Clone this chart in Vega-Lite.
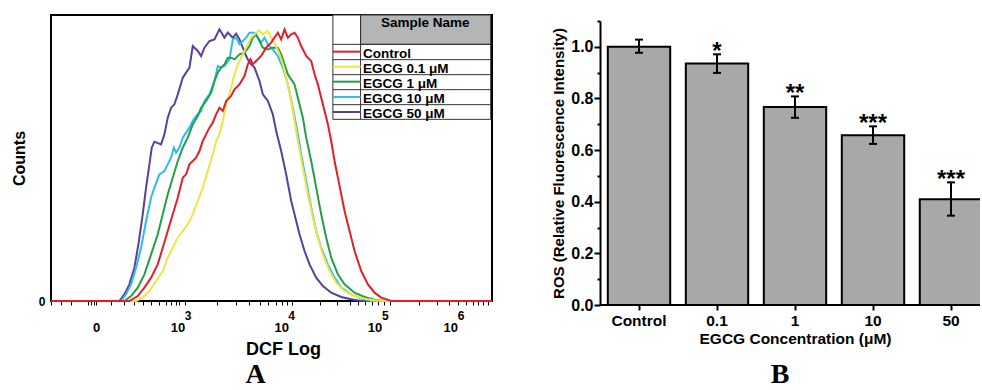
{
  "$schema": "https://vega.github.io/schema/vega-lite/v6.json",
  "usermeta": {"embedOptions": {"actions": false}},
  "padding": {"left": 10, "top": 13, "right": 0, "bottom": 0},
  "background": "white",
  "config": {
    "font": "Liberation Sans",
    "axis": {"grid": false, "labelColor": "black", "titleColor": "black", "tickColor": "black", "domainColor": "black", "labelFontWeight": "bold", "titleFontWeight": "bold"}
  },
  "spacing": 54,
  "datasets": {
    "hist": [
      {"sample": "EGCG 50 μM", "channel": 150, "count": 0},
      {"sample": "EGCG 50 μM", "channel": 355, "count": 0},
      {"sample": "EGCG 50 μM", "channel": 370, "count": 20},
      {"sample": "EGCG 50 μM", "channel": 385, "count": 50},
      {"sample": "EGCG 50 μM", "channel": 400, "count": 100},
      {"sample": "EGCG 50 μM", "channel": 412, "count": 170},
      {"sample": "EGCG 50 μM", "channel": 425, "count": 260},
      {"sample": "EGCG 50 μM", "channel": 435, "count": 340},
      {"sample": "EGCG 50 μM", "channel": 445, "count": 410},
      {"sample": "EGCG 50 μM", "channel": 452, "count": 460},
      {"sample": "EGCG 50 μM", "channel": 460, "count": 478},
      {"sample": "EGCG 50 μM", "channel": 480, "count": 470},
      {"sample": "EGCG 50 μM", "channel": 490, "count": 500},
      {"sample": "EGCG 50 μM", "channel": 500, "count": 550},
      {"sample": "EGCG 50 μM", "channel": 510, "count": 580},
      {"sample": "EGCG 50 μM", "channel": 520, "count": 590},
      {"sample": "EGCG 50 μM", "channel": 530, "count": 620},
      {"sample": "EGCG 50 μM", "channel": 545, "count": 670},
      {"sample": "EGCG 50 μM", "channel": 555, "count": 685},
      {"sample": "EGCG 50 μM", "channel": 565, "count": 700},
      {"sample": "EGCG 50 μM", "channel": 575, "count": 765},
      {"sample": "EGCG 50 μM", "channel": 590, "count": 750},
      {"sample": "EGCG 50 μM", "channel": 600, "count": 735},
      {"sample": "EGCG 50 μM", "channel": 610, "count": 760},
      {"sample": "EGCG 50 μM", "channel": 625, "count": 780},
      {"sample": "EGCG 50 μM", "channel": 640, "count": 785},
      {"sample": "EGCG 50 μM", "channel": 655, "count": 815},
      {"sample": "EGCG 50 μM", "channel": 670, "count": 790},
      {"sample": "EGCG 50 μM", "channel": 680, "count": 805},
      {"sample": "EGCG 50 μM", "channel": 695, "count": 790},
      {"sample": "EGCG 50 μM", "channel": 705, "count": 802},
      {"sample": "EGCG 50 μM", "channel": 715, "count": 785},
      {"sample": "EGCG 50 μM", "channel": 725, "count": 760},
      {"sample": "EGCG 50 μM", "channel": 735, "count": 735},
      {"sample": "EGCG 50 μM", "channel": 745, "count": 715},
      {"sample": "EGCG 50 μM", "channel": 760, "count": 700},
      {"sample": "EGCG 50 μM", "channel": 775, "count": 660},
      {"sample": "EGCG 50 μM", "channel": 785, "count": 620},
      {"sample": "EGCG 50 μM", "channel": 800, "count": 600},
      {"sample": "EGCG 50 μM", "channel": 815, "count": 560},
      {"sample": "EGCG 50 μM", "channel": 825, "count": 510},
      {"sample": "EGCG 50 μM", "channel": 840, "count": 450},
      {"sample": "EGCG 50 μM", "channel": 855, "count": 380},
      {"sample": "EGCG 50 μM", "channel": 870, "count": 300},
      {"sample": "EGCG 50 μM", "channel": 880, "count": 260},
      {"sample": "EGCG 50 μM", "channel": 895, "count": 200},
      {"sample": "EGCG 50 μM", "channel": 910, "count": 150},
      {"sample": "EGCG 50 μM", "channel": 925, "count": 110},
      {"sample": "EGCG 50 μM", "channel": 945, "count": 70},
      {"sample": "EGCG 50 μM", "channel": 965, "count": 45},
      {"sample": "EGCG 50 μM", "channel": 990, "count": 25},
      {"sample": "EGCG 50 μM", "channel": 1020, "count": 12},
      {"sample": "EGCG 50 μM", "channel": 1050, "count": 5},
      {"sample": "EGCG 50 μM", "channel": 1080, "count": 0},
      {"sample": "EGCG 50 μM", "channel": 1472, "count": 0},

      {"sample": "EGCG 10 μM", "channel": 150, "count": 0},
      {"sample": "EGCG 10 μM", "channel": 360, "count": 0},
      {"sample": "EGCG 10 μM", "channel": 375, "count": 20},
      {"sample": "EGCG 10 μM", "channel": 390, "count": 50},
      {"sample": "EGCG 10 μM", "channel": 405, "count": 100},
      {"sample": "EGCG 10 μM", "channel": 420, "count": 160},
      {"sample": "EGCG 10 μM", "channel": 435, "count": 240},
      {"sample": "EGCG 10 μM", "channel": 450, "count": 310},
      {"sample": "EGCG 10 μM", "channel": 460, "count": 340},
      {"sample": "EGCG 10 μM", "channel": 475, "count": 380},
      {"sample": "EGCG 10 μM", "channel": 490, "count": 390},
      {"sample": "EGCG 10 μM", "channel": 500, "count": 410},
      {"sample": "EGCG 10 μM", "channel": 510, "count": 430},
      {"sample": "EGCG 10 μM", "channel": 518, "count": 460},
      {"sample": "EGCG 10 μM", "channel": 525, "count": 445},
      {"sample": "EGCG 10 μM", "channel": 535, "count": 460},
      {"sample": "EGCG 10 μM", "channel": 545, "count": 490},
      {"sample": "EGCG 10 μM", "channel": 555, "count": 505},
      {"sample": "EGCG 10 μM", "channel": 565, "count": 520},
      {"sample": "EGCG 10 μM", "channel": 575, "count": 540},
      {"sample": "EGCG 10 μM", "channel": 585, "count": 555},
      {"sample": "EGCG 10 μM", "channel": 600, "count": 570},
      {"sample": "EGCG 10 μM", "channel": 610, "count": 600},
      {"sample": "EGCG 10 μM", "channel": 625, "count": 620},
      {"sample": "EGCG 10 μM", "channel": 640, "count": 660},
      {"sample": "EGCG 10 μM", "channel": 650, "count": 705},
      {"sample": "EGCG 10 μM", "channel": 660, "count": 700},
      {"sample": "EGCG 10 μM", "channel": 670, "count": 705},
      {"sample": "EGCG 10 μM", "channel": 685, "count": 725},
      {"sample": "EGCG 10 μM", "channel": 695, "count": 785},
      {"sample": "EGCG 10 μM", "channel": 705, "count": 790},
      {"sample": "EGCG 10 μM", "channel": 715, "count": 770},
      {"sample": "EGCG 10 μM", "channel": 725, "count": 780},
      {"sample": "EGCG 10 μM", "channel": 735, "count": 790},
      {"sample": "EGCG 10 μM", "channel": 745, "count": 805},
      {"sample": "EGCG 10 μM", "channel": 760, "count": 805},
      {"sample": "EGCG 10 μM", "channel": 770, "count": 790},
      {"sample": "EGCG 10 μM", "channel": 780, "count": 775},
      {"sample": "EGCG 10 μM", "channel": 790, "count": 790},
      {"sample": "EGCG 10 μM", "channel": 800, "count": 770},
      {"sample": "EGCG 10 μM", "channel": 815, "count": 755},
      {"sample": "EGCG 10 μM", "channel": 830, "count": 735},
      {"sample": "EGCG 10 μM", "channel": 845, "count": 700},
      {"sample": "EGCG 10 μM", "channel": 860, "count": 650},
      {"sample": "EGCG 10 μM", "channel": 875, "count": 580},
      {"sample": "EGCG 10 μM", "channel": 890, "count": 500},
      {"sample": "EGCG 10 μM", "channel": 900, "count": 440},
      {"sample": "EGCG 10 μM", "channel": 915, "count": 360},
      {"sample": "EGCG 10 μM", "channel": 930, "count": 280},
      {"sample": "EGCG 10 μM", "channel": 945, "count": 210},
      {"sample": "EGCG 10 μM", "channel": 960, "count": 160},
      {"sample": "EGCG 10 μM", "channel": 980, "count": 110},
      {"sample": "EGCG 10 μM", "channel": 1000, "count": 70},
      {"sample": "EGCG 10 μM", "channel": 1020, "count": 40},
      {"sample": "EGCG 10 μM", "channel": 1050, "count": 20},
      {"sample": "EGCG 10 μM", "channel": 1080, "count": 7},
      {"sample": "EGCG 10 μM", "channel": 1110, "count": 0},
      {"sample": "EGCG 10 μM", "channel": 1472, "count": 0},

      {"sample": "EGCG 1 μM", "channel": 150, "count": 0},
      {"sample": "EGCG 1 μM", "channel": 370, "count": 0},
      {"sample": "EGCG 1 μM", "channel": 390, "count": 15},
      {"sample": "EGCG 1 μM", "channel": 410, "count": 40},
      {"sample": "EGCG 1 μM", "channel": 430, "count": 80},
      {"sample": "EGCG 1 μM", "channel": 450, "count": 140},
      {"sample": "EGCG 1 μM", "channel": 470, "count": 200},
      {"sample": "EGCG 1 μM", "channel": 485, "count": 260},
      {"sample": "EGCG 1 μM", "channel": 500, "count": 320},
      {"sample": "EGCG 1 μM", "channel": 515, "count": 370},
      {"sample": "EGCG 1 μM", "channel": 530, "count": 420},
      {"sample": "EGCG 1 μM", "channel": 545, "count": 460},
      {"sample": "EGCG 1 μM", "channel": 560, "count": 490},
      {"sample": "EGCG 1 μM", "channel": 575, "count": 530},
      {"sample": "EGCG 1 μM", "channel": 590, "count": 555},
      {"sample": "EGCG 1 μM", "channel": 600, "count": 580},
      {"sample": "EGCG 1 μM", "channel": 615, "count": 600},
      {"sample": "EGCG 1 μM", "channel": 630, "count": 625},
      {"sample": "EGCG 1 μM", "channel": 640, "count": 660},
      {"sample": "EGCG 1 μM", "channel": 650, "count": 685},
      {"sample": "EGCG 1 μM", "channel": 660, "count": 700},
      {"sample": "EGCG 1 μM", "channel": 670, "count": 710},
      {"sample": "EGCG 1 μM", "channel": 680, "count": 730},
      {"sample": "EGCG 1 μM", "channel": 690, "count": 730},
      {"sample": "EGCG 1 μM", "channel": 700, "count": 725},
      {"sample": "EGCG 1 μM", "channel": 715, "count": 740},
      {"sample": "EGCG 1 μM", "channel": 730, "count": 745},
      {"sample": "EGCG 1 μM", "channel": 745, "count": 765},
      {"sample": "EGCG 1 μM", "channel": 755, "count": 790},
      {"sample": "EGCG 1 μM", "channel": 765, "count": 800},
      {"sample": "EGCG 1 μM", "channel": 775, "count": 780},
      {"sample": "EGCG 1 μM", "channel": 785, "count": 760},
      {"sample": "EGCG 1 μM", "channel": 800, "count": 755},
      {"sample": "EGCG 1 μM", "channel": 815, "count": 760},
      {"sample": "EGCG 1 μM", "channel": 830, "count": 760},
      {"sample": "EGCG 1 μM", "channel": 840, "count": 740},
      {"sample": "EGCG 1 μM", "channel": 850, "count": 710},
      {"sample": "EGCG 1 μM", "channel": 860, "count": 680},
      {"sample": "EGCG 1 μM", "channel": 870, "count": 665},
      {"sample": "EGCG 1 μM", "channel": 880, "count": 650},
      {"sample": "EGCG 1 μM", "channel": 890, "count": 610},
      {"sample": "EGCG 1 μM", "channel": 905, "count": 550},
      {"sample": "EGCG 1 μM", "channel": 915, "count": 490},
      {"sample": "EGCG 1 μM", "channel": 930, "count": 420},
      {"sample": "EGCG 1 μM", "channel": 945, "count": 340},
      {"sample": "EGCG 1 μM", "channel": 960, "count": 260},
      {"sample": "EGCG 1 μM", "channel": 975, "count": 190},
      {"sample": "EGCG 1 μM", "channel": 990, "count": 130},
      {"sample": "EGCG 1 μM", "channel": 1010, "count": 80},
      {"sample": "EGCG 1 μM", "channel": 1030, "count": 50},
      {"sample": "EGCG 1 μM", "channel": 1060, "count": 25},
      {"sample": "EGCG 1 μM", "channel": 1090, "count": 12},
      {"sample": "EGCG 1 μM", "channel": 1120, "count": 4},
      {"sample": "EGCG 1 μM", "channel": 1150, "count": 0},
      {"sample": "EGCG 1 μM", "channel": 1472, "count": 0},

      {"sample": "EGCG 0.1 μM", "channel": 150, "count": 0},
      {"sample": "EGCG 0.1 μM", "channel": 405, "count": 0},
      {"sample": "EGCG 0.1 μM", "channel": 425, "count": 10},
      {"sample": "EGCG 0.1 μM", "channel": 445, "count": 30},
      {"sample": "EGCG 0.1 μM", "channel": 465, "count": 60},
      {"sample": "EGCG 0.1 μM", "channel": 485, "count": 90},
      {"sample": "EGCG 0.1 μM", "channel": 500, "count": 130},
      {"sample": "EGCG 0.1 μM", "channel": 515, "count": 160},
      {"sample": "EGCG 0.1 μM", "channel": 530, "count": 190},
      {"sample": "EGCG 0.1 μM", "channel": 545, "count": 210},
      {"sample": "EGCG 0.1 μM", "channel": 560, "count": 230},
      {"sample": "EGCG 0.1 μM", "channel": 575, "count": 260},
      {"sample": "EGCG 0.1 μM", "channel": 590, "count": 300},
      {"sample": "EGCG 0.1 μM", "channel": 605, "count": 340},
      {"sample": "EGCG 0.1 μM", "channel": 620, "count": 390},
      {"sample": "EGCG 0.1 μM", "channel": 635, "count": 440},
      {"sample": "EGCG 0.1 μM", "channel": 645, "count": 480},
      {"sample": "EGCG 0.1 μM", "channel": 655, "count": 500},
      {"sample": "EGCG 0.1 μM", "channel": 665, "count": 540},
      {"sample": "EGCG 0.1 μM", "channel": 675, "count": 590},
      {"sample": "EGCG 0.1 μM", "channel": 690, "count": 640},
      {"sample": "EGCG 0.1 μM", "channel": 700, "count": 680},
      {"sample": "EGCG 0.1 μM", "channel": 710, "count": 710},
      {"sample": "EGCG 0.1 μM", "channel": 720, "count": 730},
      {"sample": "EGCG 0.1 μM", "channel": 730, "count": 750},
      {"sample": "EGCG 0.1 μM", "channel": 740, "count": 770},
      {"sample": "EGCG 0.1 μM", "channel": 750, "count": 790},
      {"sample": "EGCG 0.1 μM", "channel": 760, "count": 800},
      {"sample": "EGCG 0.1 μM", "channel": 775, "count": 812},
      {"sample": "EGCG 0.1 μM", "channel": 785, "count": 800},
      {"sample": "EGCG 0.1 μM", "channel": 800, "count": 810},
      {"sample": "EGCG 0.1 μM", "channel": 810, "count": 790},
      {"sample": "EGCG 0.1 μM", "channel": 820, "count": 775},
      {"sample": "EGCG 0.1 μM", "channel": 835, "count": 740},
      {"sample": "EGCG 0.1 μM", "channel": 845, "count": 710},
      {"sample": "EGCG 0.1 μM", "channel": 860, "count": 650},
      {"sample": "EGCG 0.1 μM", "channel": 870, "count": 600},
      {"sample": "EGCG 0.1 μM", "channel": 880, "count": 540},
      {"sample": "EGCG 0.1 μM", "channel": 890, "count": 480},
      {"sample": "EGCG 0.1 μM", "channel": 905, "count": 400},
      {"sample": "EGCG 0.1 μM", "channel": 920, "count": 320},
      {"sample": "EGCG 0.1 μM", "channel": 935, "count": 250},
      {"sample": "EGCG 0.1 μM", "channel": 950, "count": 190},
      {"sample": "EGCG 0.1 μM", "channel": 965, "count": 140},
      {"sample": "EGCG 0.1 μM", "channel": 985, "count": 90},
      {"sample": "EGCG 0.1 μM", "channel": 1005, "count": 55},
      {"sample": "EGCG 0.1 μM", "channel": 1030, "count": 30},
      {"sample": "EGCG 0.1 μM", "channel": 1060, "count": 15},
      {"sample": "EGCG 0.1 μM", "channel": 1090, "count": 7},
      {"sample": "EGCG 0.1 μM", "channel": 1120, "count": 2},
      {"sample": "EGCG 0.1 μM", "channel": 1150, "count": 0},
      {"sample": "EGCG 0.1 μM", "channel": 1472, "count": 0},

      {"sample": "Control", "channel": 150, "count": 0},
      {"sample": "Control", "channel": 385, "count": 0},
      {"sample": "Control", "channel": 410, "count": 15},
      {"sample": "Control", "channel": 430, "count": 40},
      {"sample": "Control", "channel": 450, "count": 70},
      {"sample": "Control", "channel": 470, "count": 110},
      {"sample": "Control", "channel": 485, "count": 160},
      {"sample": "Control", "channel": 500, "count": 210},
      {"sample": "Control", "channel": 515, "count": 260},
      {"sample": "Control", "channel": 530, "count": 310},
      {"sample": "Control", "channel": 545, "count": 370},
      {"sample": "Control", "channel": 555, "count": 380},
      {"sample": "Control", "channel": 565, "count": 410},
      {"sample": "Control", "channel": 575, "count": 420},
      {"sample": "Control", "channel": 585, "count": 430},
      {"sample": "Control", "channel": 595, "count": 450},
      {"sample": "Control", "channel": 605, "count": 480},
      {"sample": "Control", "channel": 615, "count": 500},
      {"sample": "Control", "channel": 625, "count": 520},
      {"sample": "Control", "channel": 635, "count": 535},
      {"sample": "Control", "channel": 645, "count": 560},
      {"sample": "Control", "channel": 655, "count": 580},
      {"sample": "Control", "channel": 665, "count": 570},
      {"sample": "Control", "channel": 675, "count": 600},
      {"sample": "Control", "channel": 690, "count": 615},
      {"sample": "Control", "channel": 700, "count": 635},
      {"sample": "Control", "channel": 715, "count": 650},
      {"sample": "Control", "channel": 730, "count": 675},
      {"sample": "Control", "channel": 740, "count": 710},
      {"sample": "Control", "channel": 748, "count": 725},
      {"sample": "Control", "channel": 755, "count": 710},
      {"sample": "Control", "channel": 765, "count": 720},
      {"sample": "Control", "channel": 780, "count": 735},
      {"sample": "Control", "channel": 795, "count": 760},
      {"sample": "Control", "channel": 810, "count": 775},
      {"sample": "Control", "channel": 820, "count": 790},
      {"sample": "Control", "channel": 830, "count": 805},
      {"sample": "Control", "channel": 840, "count": 785},
      {"sample": "Control", "channel": 850, "count": 815},
      {"sample": "Control", "channel": 860, "count": 790},
      {"sample": "Control", "channel": 870, "count": 800},
      {"sample": "Control", "channel": 880, "count": 805},
      {"sample": "Control", "channel": 890, "count": 790},
      {"sample": "Control", "channel": 900, "count": 765},
      {"sample": "Control", "channel": 915, "count": 735},
      {"sample": "Control", "channel": 930, "count": 720},
      {"sample": "Control", "channel": 940, "count": 680},
      {"sample": "Control", "channel": 950, "count": 650},
      {"sample": "Control", "channel": 960, "count": 610},
      {"sample": "Control", "channel": 970, "count": 570},
      {"sample": "Control", "channel": 980, "count": 530},
      {"sample": "Control", "channel": 990, "count": 480},
      {"sample": "Control", "channel": 1000, "count": 420},
      {"sample": "Control", "channel": 1010, "count": 370},
      {"sample": "Control", "channel": 1020, "count": 320},
      {"sample": "Control", "channel": 1030, "count": 270},
      {"sample": "Control", "channel": 1045, "count": 210},
      {"sample": "Control", "channel": 1060, "count": 150},
      {"sample": "Control", "channel": 1080, "count": 90},
      {"sample": "Control", "channel": 1100, "count": 50},
      {"sample": "Control", "channel": 1120, "count": 25},
      {"sample": "Control", "channel": 1140, "count": 10},
      {"sample": "Control", "channel": 1170, "count": 0},
      {"sample": "Control", "channel": 1472, "count": 0}
    ],
    "ros": [
      {"conc": "Control", "value": 1.0, "lo": 0.977, "hi": 1.028, "sig": ""},
      {"conc": "0.1", "value": 0.935, "lo": 0.899, "hi": 0.971, "sig": "*"},
      {"conc": "1", "value": 0.767, "lo": 0.725, "hi": 0.808, "sig": "**"},
      {"conc": "10", "value": 0.657, "lo": 0.624, "hi": 0.692, "sig": "***"},
      {"conc": "50", "value": 0.41, "lo": 0.346, "hi": 0.475, "sig": "***"}
    ]
  },
  "hconcat": [
    {
      "width": 441,
      "height": 286,
      "view": {"stroke": "black", "strokeWidth": 2},
      "data": {"values": [{}]},
      "title": {"text": "A", "orient": "bottom", "frame": "group", "anchor": "middle", "dx": -16, "offset": 3, "font": "Liberation Serif", "fontSize": 28, "fontWeight": "bold", "color": "black"},
      "layer": [
        {
          "data": {"name": "hist"},
          "mark": {"type": "line", "strokeWidth": 2},
          "encoding": {
            "x": {"field": "channel", "type": "quantitative",
              "scale": {"domain": [150, 1472], "nice": false, "zero": false},
              "axis": {"orient": "bottom", "values": [285, 529, 840, 1120, 1347], "labelExpr": "datum.value == 285 ? '0' : '10'", "ticks": false, "tickSize": 0, "domain": false, "labelFontSize": 13, "labelPadding": 20, "labelFlush": false, "title": "DCF Log", "titleFontSize": 18, "titlePadding": 6, "titleX": 232}},
            "y": {"field": "count", "type": "quantitative",
              "scale": {"domain": [0, 858], "nice": false},
              "axis": {"values": [0], "ticks": false, "tickSize": 0, "domain": false, "labelFontSize": 12, "labelPadding": 6, "title": "Counts", "titleFontSize": 16, "titlePadding": 11}},
            "color": {"field": "sample", "type": "nominal",
              "scale": {"domain": ["Control", "EGCG 0.1 μM", "EGCG 1 μM", "EGCG 10 μM", "EGCG 50 μM"], "range": ["#e31f26", "#f0e444", "#23a043", "#2cbcf0", "#5a3e9b"]},
              "legend": null}
          }
        },
        {"mark": {"type": "text", "align": "center", "baseline": "middle", "fontSize": 12, "fontWeight": "bold", "color": "black"}, "encoding": {"x": {"datum": 561, "type": "quantitative", "axis": null}, "y": {"datum": -44, "type": "quantitative", "axis": null}, "text": {"value": "3"}}},
        {"mark": {"type": "text", "align": "center", "baseline": "middle", "fontSize": 12, "fontWeight": "bold", "color": "black"}, "encoding": {"x": {"datum": 871, "type": "quantitative", "axis": null}, "y": {"datum": -44, "type": "quantitative", "axis": null}, "text": {"value": "4"}}},
        {"mark": {"type": "text", "align": "center", "baseline": "middle", "fontSize": 12, "fontWeight": "bold", "color": "black"}, "encoding": {"x": {"datum": 1152, "type": "quantitative", "axis": null}, "y": {"datum": -44, "type": "quantitative", "axis": null}, "text": {"value": "5"}}},
        {"mark": {"type": "text", "align": "center", "baseline": "middle", "fontSize": 12, "fontWeight": "bold", "color": "black"}, "encoding": {"x": {"datum": 1379, "type": "quantitative", "axis": null}, "y": {"datum": -44, "type": "quantitative", "axis": null}, "text": {"value": "6"}}},
        {
          "mark": {"type": "rect", "fill": "white", "stroke": "#333333", "strokeWidth": 1},
          "encoding": {
            "x": {"datum": 995, "type": "quantitative", "axis": {"orient": "bottom", "values": [150, 180, 210, 260, 270, 280, 285, 330, 370, 400, 425, 450, 475, 495, 510, 525, 535, 552, 649, 705, 745, 776, 802, 823, 842, 858, 873, 955, 1008, 1045, 1070, 1092, 1112, 1130, 1147, 1165, 1254, 1306, 1343, 1371, 1395, 1414, 1431, 1446, 1460], "labels": false, "domain": false, "tickSize": 4, "tickWidth": 1, "title": null}},
            "x2": {"datum": 1468},
            "y": {"datum": 545, "type": "quantitative", "axis": null},
            "y2": {"datum": 858}
          }
        },
        {
          "mark": {"type": "rect", "fill": "#b4b5b7", "stroke": "#333333", "strokeWidth": 1},
          "encoding": {"x": {"datum": 1078, "type": "quantitative", "axis": null}, "x2": {"datum": 1468}, "y": {"datum": 770, "type": "quantitative", "axis": null}, "y2": {"datum": 858}}
        },
        {
          "mark": {"type": "rule", "stroke": "#333333", "strokeWidth": 1},
          "encoding": {"x": {"datum": 1078, "type": "quantitative", "axis": null}, "y": {"datum": 545, "type": "quantitative", "axis": null}, "y2": {"datum": 858}}
        },
        {"mark": {"type": "rule", "stroke": "#333333", "strokeWidth": 1}, "encoding": {"x": {"datum": 995, "type": "quantitative", "axis": null}, "x2": {"datum": 1468}, "y": {"datum": 770, "type": "quantitative", "axis": null}}},
        {"mark": {"type": "rule", "stroke": "#333333", "strokeWidth": 1}, "encoding": {"x": {"datum": 995, "type": "quantitative", "axis": null}, "x2": {"datum": 1468}, "y": {"datum": 724, "type": "quantitative", "axis": null}}},
        {"mark": {"type": "rule", "stroke": "#333333", "strokeWidth": 1}, "encoding": {"x": {"datum": 995, "type": "quantitative", "axis": null}, "x2": {"datum": 1468}, "y": {"datum": 679, "type": "quantitative", "axis": null}}},
        {"mark": {"type": "rule", "stroke": "#333333", "strokeWidth": 1}, "encoding": {"x": {"datum": 995, "type": "quantitative", "axis": null}, "x2": {"datum": 1468}, "y": {"datum": 634, "type": "quantitative", "axis": null}}},
        {"mark": {"type": "rule", "stroke": "#333333", "strokeWidth": 1}, "encoding": {"x": {"datum": 995, "type": "quantitative", "axis": null}, "x2": {"datum": 1468}, "y": {"datum": 589, "type": "quantitative", "axis": null}}},
        {"mark": {"type": "rule", "strokeWidth": 2}, "encoding": {"x": {"datum": 995, "type": "quantitative", "axis": null}, "x2": {"datum": 1078}, "y": {"datum": 748, "type": "quantitative", "axis": null}, "color": {"datum": "Control", "type": "nominal", "legend": null}}},
        {"mark": {"type": "rule", "strokeWidth": 2}, "encoding": {"x": {"datum": 995, "type": "quantitative", "axis": null}, "x2": {"datum": 1078}, "y": {"datum": 703, "type": "quantitative", "axis": null}, "color": {"datum": "EGCG 0.1 μM", "type": "nominal", "legend": null}}},
        {"mark": {"type": "rule", "strokeWidth": 2}, "encoding": {"x": {"datum": 995, "type": "quantitative", "axis": null}, "x2": {"datum": 1078}, "y": {"datum": 658, "type": "quantitative", "axis": null}, "color": {"datum": "EGCG 1 μM", "type": "nominal", "legend": null}}},
        {"mark": {"type": "rule", "strokeWidth": 2}, "encoding": {"x": {"datum": 995, "type": "quantitative", "axis": null}, "x2": {"datum": 1078}, "y": {"datum": 612, "type": "quantitative", "axis": null}, "color": {"datum": "EGCG 10 μM", "type": "nominal", "legend": null}}},
        {"mark": {"type": "rule", "strokeWidth": 2}, "encoding": {"x": {"datum": 995, "type": "quantitative", "axis": null}, "x2": {"datum": 1078}, "y": {"datum": 567, "type": "quantitative", "axis": null}, "color": {"datum": "EGCG 50 μM", "type": "nominal", "legend": null}}},
        {"mark": {"type": "text", "align": "center", "baseline": "alphabetic", "fontSize": 13.5, "fontWeight": "bold", "color": "black"}, "encoding": {"x": {"datum": 1272, "type": "quantitative", "axis": null}, "y": {"datum": 822, "type": "quantitative", "axis": null}, "text": {"value": "Sample Name"}}},
        {"mark": {"type": "text", "align": "left", "baseline": "alphabetic", "fontSize": 13.5, "fontWeight": "bold", "color": "black"}, "encoding": {"x": {"datum": 1085, "type": "quantitative", "axis": null}, "y": {"datum": 730, "type": "quantitative", "axis": null}, "text": {"value": "Control"}}},
        {"mark": {"type": "text", "align": "left", "baseline": "alphabetic", "fontSize": 13.5, "fontWeight": "bold", "color": "black"}, "encoding": {"x": {"datum": 1085, "type": "quantitative", "axis": null}, "y": {"datum": 685, "type": "quantitative", "axis": null}, "text": {"value": "EGCG 0.1 μM"}}},
        {"mark": {"type": "text", "align": "left", "baseline": "alphabetic", "fontSize": 13.5, "fontWeight": "bold", "color": "black"}, "encoding": {"x": {"datum": 1085, "type": "quantitative", "axis": null}, "y": {"datum": 640, "type": "quantitative", "axis": null}, "text": {"value": "EGCG 1 μM"}}},
        {"mark": {"type": "text", "align": "left", "baseline": "alphabetic", "fontSize": 13.5, "fontWeight": "bold", "color": "black"}, "encoding": {"x": {"datum": 1085, "type": "quantitative", "axis": null}, "y": {"datum": 595, "type": "quantitative", "axis": null}, "text": {"value": "EGCG 10 μM"}}},
        {"mark": {"type": "text", "align": "left", "baseline": "alphabetic", "fontSize": 13.5, "fontWeight": "bold", "color": "black"}, "encoding": {"x": {"datum": 1085, "type": "quantitative", "axis": null}, "y": {"datum": 550, "type": "quantitative", "axis": null}, "text": {"value": "EGCG 50 μM"}}}
      ],
      "resolve": {"axis": {"x": "independent", "y": "independent"}}
    },
    {
      "width": 380,
      "height": 290,
      "view": {"stroke": null},
      "data": {"name": "ros"},
      "title": {"text": "B", "orient": "bottom", "frame": "group", "anchor": "middle", "dx": -10, "offset": 14, "font": "Liberation Serif", "fontSize": 28, "fontWeight": "bold", "color": "black"},
      "layer": [
        {
          "mark": {"type": "bar", "fill": "#a8a8a8", "stroke": "black", "strokeWidth": 2, "clip": true},
          "encoding": {
            "x": {"field": "conc", "type": "nominal", "sort": null,
              "scale": {"domain": ["Control", "0.1", "1", "10", "50"], "range": [0, 390], "paddingInner": 0.2, "paddingOuter": 0.1},
              "axis": {"orient": "bottom", "labelAngle": 0, "domain": false, "tickSize": 5, "tickWidth": 2, "labelFontSize": 15.5, "labelPadding": 3, "title": "EGCG Concentration (μM)", "titleFontSize": 15.5, "titlePadding": 3, "titleX": 195}},
            "y": {"field": "value", "type": "quantitative",
              "scale": {"domain": [0, 1.1], "range": [290, 6], "nice": false, "zero": true},
              "axis": {"orient": "left", "values": [0, 0.2, 0.4, 0.6, 0.8, 1.0], "format": ".1f", "domain": true, "domainWidth": 2, "tickSize": 6, "tickWidth": 2, "labelFontSize": 16, "labelPadding": 1, "title": "ROS (Relative Fluorescence Intensity)", "titleFontSize": 15, "titlePadding": 4}}
          }
        },
        {
          "data": {"values": [{}]},
          "mark": {"type": "rule", "stroke": "black", "strokeWidth": 2},
          "encoding": {"y": {"datum": 0, "type": "quantitative", "axis": null}}
        },
        {
          "mark": {"type": "rule", "stroke": "black", "strokeWidth": 2},
          "encoding": {
            "x": {"field": "conc", "type": "nominal", "axis": null},
            "y": {"field": "lo", "type": "quantitative", "axis": {"orient": "left", "values": [0.1, 0.3, 0.5, 0.7, 0.9, 1.1], "labels": false, "domain": false, "tickSize": 3, "tickWidth": 2, "title": null}},
            "y2": {"field": "hi"}
          }
        },
        {
          "mark": {"type": "tick", "color": "black", "thickness": 2, "size": 8, "opacity": 1},
          "encoding": {"x": {"field": "conc", "type": "nominal", "axis": null}, "y": {"field": "lo", "type": "quantitative", "axis": null}}
        },
        {
          "mark": {"type": "tick", "color": "black", "thickness": 2, "size": 8, "opacity": 1},
          "encoding": {"x": {"field": "conc", "type": "nominal", "axis": null}, "y": {"field": "hi", "type": "quantitative", "axis": null}}
        },
        {
          "mark": {"type": "text", "fontSize": 24, "fontWeight": "bold", "baseline": "alphabetic", "dy": 5, "color": "black"},
          "encoding": {"x": {"field": "conc", "type": "nominal", "axis": null}, "y": {"field": "hi", "type": "quantitative", "axis": null}, "text": {"field": "sig"}}
        }
      ],
      "resolve": {"axis": {"x": "independent", "y": "independent"}}
    }
  ]
}
